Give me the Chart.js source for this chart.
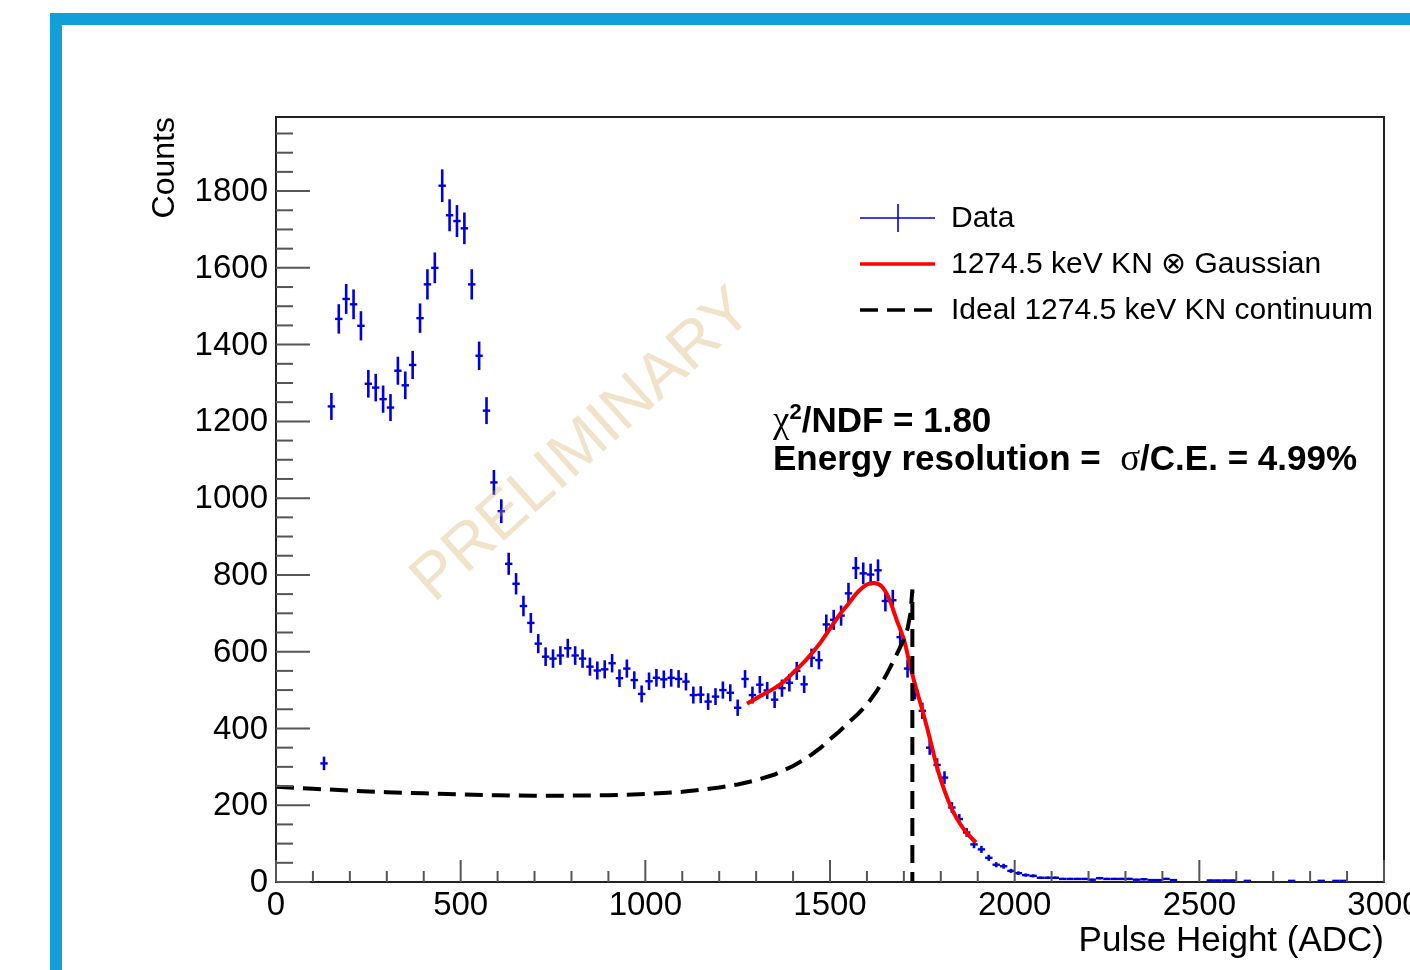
<!DOCTYPE html>
<html>
<head>
<meta charset="utf-8">
<script src="https://cdn.jsdelivr.net/npm/chart.js@4.4.0/dist/chart.umd.min.js"></script>
<style>
html, body { margin: 0; padding: 0; background: #fff; overflow: hidden; }
#frame { position: absolute; left: 50px; top: 13px; width: 1400px; height: 1000px;
         border-top: 12px solid #129fd8; border-left: 12px solid #129fd8; }
#c { position: absolute; left: 0; top: 0; }
</style>
</head>
<body>
<div id="frame"></div>
<canvas id="c" width="1410" height="970"></canvas>
<script>
// histogram: bin centres (ADC) and counts, bin width 20
const binX = [130,150,170,190,210,230,250,270,290,310,330,350,370,390,410,430,450,470,490,510,
  530,550,570,590,610,630,650,670,690,710,730,750,770,790,810,830,850,870,890,910,
  930,950,970,990,1010,1030,1050,1070,1090,1110,1130,1150,1170,1190,1210,1230,1250,1270,1290,1310,
  1330,1350,1370,1390,1410,1430,1450,1470,1490,1510,1530,1550,1570,1590,1610,1630,1650,1670,1690,1710,
  1730,1750,1770,1790,1810,1830,1850,1870,1890,1910,1930,1950,1970,1990,2010,2030,2050,2070,2090,2110,
  2130,2150,2170,2190,2210,2230,2250,2270,2290,2310,2330,2350,2370,2390,2410,2430,
  2530,2550,2570,2590,2630,2750,2830,2870,2890];
const binCounts = [309,1239,1467,1519,1505,1449,1298,1288,1258,1236,1332,1294,1347,1469,1557,1600,1814,1737,1722,1703,
  1557,1371,1228,1041,966,829,777,719,675,621,587,582,590,609,590,582,561,551,554,570,
  531,556,526,490,523,532,528,532,529,522,487,488,470,483,500,493,454,529,487,514,
  499,475,505,519,550,515,584,578,671,683,694,752,818,804,801,812,732,734,638,556,
  498,446,350,305,272,194,164,129,98,85,63,45,41,29,23,18,16,11,11,11,
  8,8,8,8,6,10,8,8,8,8,6,7,5,5,8,5,
  4,4,4,4,3,3,3,3,3];

// fit: KN convolved with gaussian
const fitX = [1275,1300,1325,1350,1375,1400,1425,1450,1475,1500,1525,1550,1575,1600,1620,1640,1660,1680,
  1700,1715,1730,1750,1770,1790,1810,1830,1850,1870,1895];
const fitY = [465,478,492,505,522,545,568,595,625,660,695,725,755,775,779,770,738,684,
  632,572,515,448,375,298,238,190,155,128,103];

// ideal KN continuum (with the Compton edge drop)
const knX = [0,100,200,300,400,500,600,700,800,900,1000,1100,1200,1250,1300,1350,1400,1425,1450,1475,
  1500,1525,1550,1575,1600,1625,1650,1675,1700,1710,1718,1723,1723];
const knY = [248,243,238,234,231,228,226,225,225,226,229,235,246,254,265,280,302,316,332,350,
  372,392,415,437,462,495,535,582,632,660,700,762,0];

const xTickLabels = ['0','500','1000','1500','2000','2500','3000'];
const yTickLabels = ['0','200','400','600','800','1000','1200','1400','1600','1800'];

const BLUE = '#0000dd';
const FONT = '"Liberation Sans", Arial, sans-serif';

function pts(xs, ys) {
    return xs.map((x, i) => ({ x: x, y: ys[i] }));
}

const rootStyle = {
    id: 'rootStyle',
    beforeDatasetsDraw(chart) {
        // vertical error bars, sqrt(N)
        const ctx = chart.ctx, x = chart.scales.x, y = chart.scales.y;
        ctx.save();
        ctx.strokeStyle = BLUE;
        ctx.lineWidth = 2.6;
        for (let i = 0; i < binX.length; i++) {
            const n = binCounts[i], e = Math.sqrt(n);
            const px = x.getPixelForValue(binX[i]);
            ctx.beginPath();
            ctx.moveTo(px, y.getPixelForValue(n - e));
            ctx.lineTo(px, y.getPixelForValue(n + e));
            ctx.stroke();
        }
        ctx.restore();
    },
    afterDatasetsDraw(chart) {
        // watermark
        const ctx = chart.ctx;
        ctx.save();
        ctx.translate(583, 446);
        ctx.rotate(-41.9 * Math.PI / 180);
        ctx.font = '64px ' + FONT;
        ctx.fillStyle = 'rgba(215,170,100,0.34)';
        ctx.textAlign = 'center';
        ctx.textBaseline = 'middle';
        ctx.fillText('PRELIMINARY', 0, 0);
        ctx.restore();
    },
    afterDraw(chart) {
        const ctx = chart.ctx, x = chart.scales.x, y = chart.scales.y;
        const a = chart.chartArea;
        ctx.save();

        // frame
        ctx.strokeStyle = '#222';
        ctx.lineWidth = 2;
        ctx.strokeRect(a.left, a.top, a.right - a.left, a.bottom - a.top);

        // ticks, inside
        ctx.strokeStyle = '#555';
        ctx.lineWidth = 2;
        x.ticks.forEach(t => {
            if (t.value % 100 !== 0) return;
            const px = x.getPixelForValue(t.value);
            const len = t.value % 500 === 0 ? 22 : 11;
            ctx.beginPath();
            ctx.moveTo(px, a.bottom);
            ctx.lineTo(px, a.bottom - len);
            ctx.stroke();
        });
        y.ticks.forEach(t => {
            if (t.value % 50 !== 0) return;
            const py = y.getPixelForValue(t.value);
            const len = t.value % 200 === 0 ? 34 : 17;
            ctx.beginPath();
            ctx.moveTo(a.left, py);
            ctx.lineTo(a.left + len, py);
            ctx.stroke();
        });

        // tick labels
        ctx.fillStyle = '#000';
        ctx.font = '33px ' + FONT;
        ctx.textAlign = 'center';
        ctx.textBaseline = 'middle';
        xTickLabels.forEach(l => {
            ctx.fillText(l, x.getPixelForValue(Number(l)), a.bottom + 24);
        });
        ctx.textAlign = 'right';
        yTickLabels.forEach(l => {
            ctx.fillText(l, a.left - 8, y.getPixelForValue(Number(l)) + 1);
        });

        // axis titles
        ctx.textBaseline = 'alphabetic';
        ctx.textAlign = 'right';
        ctx.font = '35px ' + FONT;
        ctx.fillText('Pulse Height (ADC)', a.right, 951);
        ctx.font = '32px ' + FONT;
        ctx.save();
        ctx.translate(174, a.top);
        ctx.rotate(-Math.PI / 2);
        ctx.fillText('Counts', 0, 0);
        ctx.restore();

        // legend
        const ds = chart.data.datasets;
        const rows = [ds[2], ds[1], ds[0]];
        const ly = [218, 264, 310];
        ctx.font = '30px ' + FONT;
        ctx.textAlign = 'left';
        ctx.textBaseline = 'middle';
        rows.forEach((d, i) => {
            ctx.save();
            ctx.beginPath();
            if (d.label === 'Data') {
                ctx.strokeStyle = BLUE;
                ctx.lineWidth = 1.6;
                ctx.moveTo(860, ly[i]); ctx.lineTo(935, ly[i]);
                ctx.moveTo(898, ly[i] - 14); ctx.lineTo(898, ly[i] + 14);
            } else {
                ctx.strokeStyle = d.borderColor;
                ctx.lineWidth = Math.min(d.borderWidth, 3.5);
                if (d.borderDash) ctx.setLineDash(d.borderDash);
                ctx.moveTo(860, ly[i]); ctx.lineTo(935, ly[i]);
            }
            ctx.stroke();
            ctx.restore();
            ctx.fillText(d.label, 951, ly[i] + 1);
        });

        // fit results
        ctx.textBaseline = 'alphabetic';
        let cx = 773;
        const bold = 'bold 35px ' + FONT;
        const greek = '37px "Liberation Serif", serif';
        ctx.font = greek;
        ctx.fillText('\u03c7', cx, 432);
        cx += ctx.measureText('\u03c7').width;
        ctx.font = 'bold 22px ' + FONT;
        ctx.fillText('2', cx, 419);
        cx += ctx.measureText('2').width;
        ctx.font = bold;
        ctx.fillText('/NDF = 1.80', cx, 432);

        cx = 773;
        ctx.font = bold;
        ctx.fillText('Energy resolution =  ', cx, 470);
        cx += ctx.measureText('Energy resolution =  ').width;
        ctx.font = greek;
        ctx.fillText('\u03c3', cx, 470);
        cx += ctx.measureText('\u03c3').width;
        ctx.font = bold;
        ctx.fillText('/C.E. = 4.99%', cx, 470);

        ctx.restore();
    }
};

new Chart(document.getElementById('c'), {
    type: 'scatter',
    data: {
        datasets: [
            {
                label: 'Ideal 1274.5 keV KN continuum',
                data: pts(knX, knY),
                showLine: true,
                borderColor: '#000',
                borderWidth: 4,
                borderDash: [18, 9],
                pointRadius: 0,
                tension: 0
            },
            {
                label: '1274.5 keV KN \u2297 Gaussian',
                data: pts(fitX, fitY),
                showLine: true,
                borderColor: '#ff0000',
                borderWidth: 4,
                pointRadius: 0,
                tension: 0.3
            },
            {
                label: 'Data',
                data: pts(binX, binCounts),
                showLine: false,
                pointStyle: 'line',
                pointRadius: 3.7,
                pointBorderColor: BLUE,
                pointBorderWidth: 2.4,
                borderColor: BLUE
            }
        ]
    },
    options: {
        responsive: false,
        animation: false,
        devicePixelRatio: 1,
        layout: { padding: { top: 117, right: 26, left: 0, bottom: 0 } },
        plugins: { legend: { display: false }, tooltip: { enabled: false } },
        scales: {
            x: {
                type: 'linear', min: 0, max: 3000,
                grid: { display: false, drawTicks: false },
                border: { display: false },
                ticks: { display: false, stepSize: 100 },
                afterFit: s => { s.height = 88; }
            },
            y: {
                type: 'linear', min: 0, max: 1993,
                grid: { display: false, drawTicks: false },
                border: { display: false },
                ticks: { display: false, stepSize: 50 },
                afterFit: s => { s.width = 276; }
            }
        }
    },
    plugins: [rootStyle]
});
</script>
</body>
</html>
